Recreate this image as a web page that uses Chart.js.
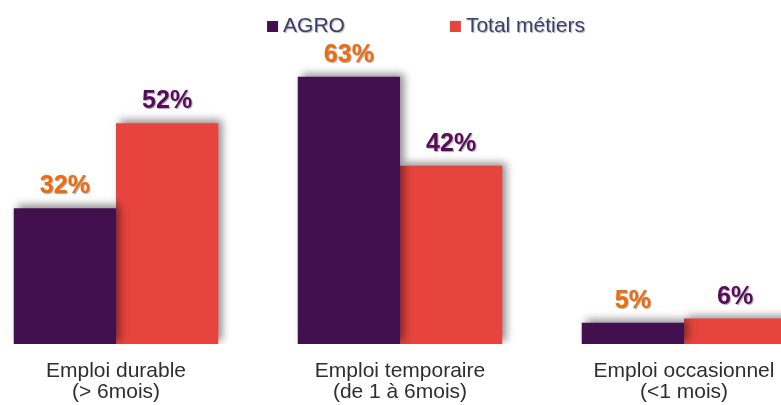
<!DOCTYPE html>
<html>
<head>
<meta charset="utf-8">
<script src="https://cdn.jsdelivr.net/npm/chart.js@4"></script>
<style>
  html, body { margin: 0; padding: 0; background: #fff; overflow: hidden; }
  body { width: 781px; height: 405px; position: relative; }
  /* the original picture is cropped on the sides and at the bottom, so the canvas is bigger than the page */
  #wrap { position: absolute; left: -26px; top: 0; width: 852px; height: 420px; }
</style>
</head>
<body>
<div id="wrap"><canvas id="chart"></canvas></div>
<script>
const categories = [
    ['Emploi durable', '(> 6mois)'],
    ['Emploi temporaire', '(de 1 à 6mois)'],
    ['Emploi occasionnel', '(<1 mois)']
];
const agro = [32, 63, 5];
const totalMetiers = [52, 42, 6];
const seriesNames = ['AGRO', 'Total métiers'];
const barColors = ['#43104f', '#e8443e'];
const valueColors = ['#f26b0b', '#5a0a5c'];

/* ================= SHADOW UNDER BARS ====================== */
const barShadow = {
    id: 'barShadow',
    beforeDatasetsDraw(chart) {
        const ctx = chart.ctx;
        ctx.save();
        ctx.shadowColor = 'rgba(0,0,0,0.45)';
        ctx.shadowBlur = 8;
        ctx.shadowOffsetX = 4;
        ctx.shadowOffsetY = -3;
    },
    afterDatasetsDraw(chart) {
        chart.ctx.restore();
    }
};

/* ================= VALUE LABELS ====================== */
const valueLabels = {
    id: 'valueLabels',
    afterDatasetsDraw(chart) {
        const ctx = chart.ctx;
        ctx.save();
        ctx.font = 'bold 25px "Liberation Sans", Arial, sans-serif';
        ctx.textAlign = 'center';
        ctx.textBaseline = 'alphabetic';
        ctx.shadowColor = 'rgba(0,0,0,0.35)';
        ctx.shadowBlur = 1;
        ctx.shadowOffsetX = 1;
        ctx.shadowOffsetY = 1;
        chart.data.datasets.forEach((ds, i) => {
            chart.getDatasetMeta(i).data.forEach((bar, j) => {
                ctx.fillStyle = valueColors[i];
                ctx.fillText(ds.data[j] + '%', bar.x, bar.y - 15);
            });
        });
        ctx.restore();
    }
};

/* ================= LEGEND ON TOP ====================== */
const topLegend = {
    id: 'topLegend',
    afterDraw(chart) {
        const ctx = chart.ctx;
        ctx.save();
        ctx.font = '21px "Liberation Sans", Arial, sans-serif';
        ctx.textBaseline = 'alphabetic';
        const box = 11, gap = 5, spacing = 105;
        const widths = seriesNames.map(n => box + gap + ctx.measureText(n).width);
        const total = widths.reduce((a, b) => a + b, 0) + spacing * (widths.length - 1);
        let x = chart.width / 2 + 26 - total / 2;
        const baseY = 32;
        seriesNames.forEach((name, i) => {
            ctx.shadowColor = 'transparent';
            ctx.fillStyle = barColors[i];
            ctx.fillRect(x, baseY - 11, box, 11);
            ctx.shadowColor = 'rgba(0,0,0,0.3)';
            ctx.shadowOffsetX = 1;
            ctx.shadowOffsetY = 1;
            ctx.shadowBlur = 1;
            ctx.fillStyle = '#3c3e6e';
            ctx.fillText(name, x + box + gap, baseY);
            x += widths[i] + spacing;
        });
        ctx.restore();
    }
};

new Chart(document.querySelector('#chart'), {
    type: 'bar',
    data: {
        labels: categories,
        datasets: [
            { label: seriesNames[0], data: agro, backgroundColor: barColors[0] },
            { label: seriesNames[1], data: totalMetiers, backgroundColor: barColors[1] }
        ]
    },
    options: {
        responsive: true,
        maintainAspectRatio: false,
        animation: false,
        layout: { padding: { top: 47, bottom: 0, left: 0, right: 0 } },
        datasets: {
            bar: { categoryPercentage: 0.72, barPercentage: 1.0, borderWidth: 0 }
        },
        plugins: {
            legend: { display: false },
            tooltip: { enabled: false }
        },
        scales: {
            x: {
                grid: { display: false, drawTicks: false },
                border: { display: false },
                ticks: {
                    color: '#2e2e2e',
                    padding: 17,
                    font: { family: '"Liberation Sans", Arial, sans-serif', size: 21, lineHeight: 1.0 },
                    maxRotation: 0,
                    autoSkip: false
                }
            },
            y: {
                display: false,
                min: 0,
                max: 70
            }
        }
    },
    plugins: [barShadow, valueLabels, topLegend]
});
</script>
</body>
</html>
